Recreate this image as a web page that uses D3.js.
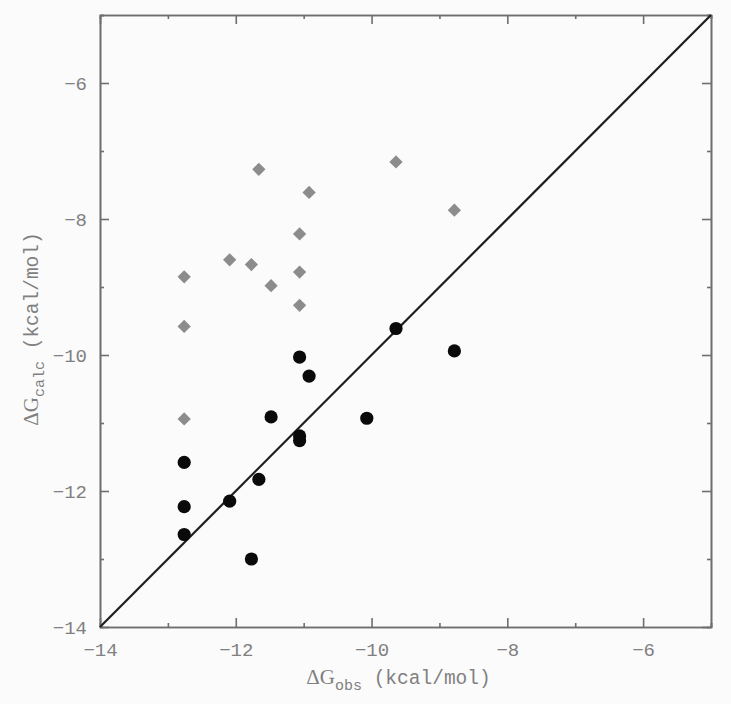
<!DOCTYPE html>
<html>
<head>
<meta charset="utf-8">
<script src="https://cdn.jsdelivr.net/npm/d3@7"></script>
<style>
  body { margin: 0; background: #fbfbfb; }
  .axis path, .axis line { stroke: #6e6e6e; stroke-width: 1.6; }
  .axis text { fill: #808080; font-family: "Liberation Mono", "Courier New", monospace; font-size: 19px; }
</style>
</head>
<body>
<div id="canva"></div>
<script>
// gray diamonds (without correction)
const obsGray  = [-11.66, -9.64, -10.92, -8.78, -11.06, -12.09, -11.77, -11.06, -12.76, -11.48, -11.06, -12.76, -12.76];
const calcGray = [-7.27, -7.16, -7.61, -7.87, -8.22, -8.60, -8.67, -8.78, -8.85, -8.98, -9.27, -9.58, -10.94];

// black circles (with correction)
const obsBlack  = [-9.64, -8.78, -11.06, -10.92, -11.48, -10.07, -11.06, -11.06, -12.76, -11.66, -12.09, -12.76, -12.76, -11.77];
const calcBlack = [-9.61, -9.94, -10.03, -10.31, -10.91, -10.93, -11.19, -11.26, -11.58, -11.83, -12.15, -12.23, -12.64, -13.00];

const majorTicks = [-14, -12, -10, -8, -6];
const minorTicks = [-13, -11, -9, -7, -5];
const domain = [-14, -5];

const width = 731;
const height = 704;
const margin = { top: 15, left: 100, bottom: 77, right: 20 };
const iwidth = width - margin.left - margin.right;
const iheight = height - margin.top - margin.bottom;

const svg = d3.select("#canva").append("svg")
    .attr("width", width)
    .attr("height", height);

const g = svg.append("g").attr("transform", `translate(${margin.left},${margin.top})`);

const x = d3.scaleLinear().domain(domain).range([0, iwidth]);
const y = d3.scaleLinear().domain(domain).range([iheight, 0]);

// minor ticks (all four sides)
const minor = (axis) => axis.tickValues(minorTicks).tickSize(-4).tickFormat("");
g.append("g").attr("class", "axis").attr("transform", `translate(0,${iheight})`).call(minor(d3.axisBottom(x)));
g.append("g").attr("class", "axis").call(minor(d3.axisTop(x)));
g.append("g").attr("class", "axis").call(minor(d3.axisLeft(y)));
g.append("g").attr("class", "axis").attr("transform", `translate(${iwidth},0)`).call(minor(d3.axisRight(y)));

// major ticks
g.append("g").attr("class", "axis").attr("transform", `translate(0,${iheight})`)
    .call(d3.axisBottom(x).tickValues(majorTicks).tickSize(-9).tickSizeOuter(0).tickPadding(16).tickFormat(d3.format("d")));
g.append("g").attr("class", "axis")
    .call(d3.axisLeft(y).tickValues(majorTicks).tickSize(-9).tickSizeOuter(0).tickPadding(13).tickFormat(d3.format("d")));
g.append("g").attr("class", "axis")
    .call(d3.axisTop(x).tickValues(majorTicks).tickSize(-9).tickSizeOuter(0).tickFormat(""));
g.append("g").attr("class", "axis").attr("transform", `translate(${iwidth},0)`)
    .call(d3.axisRight(y).tickValues(majorTicks).tickSize(-9).tickSizeOuter(0).tickFormat(""));

g.selectAll(".axis text").style("font-family", "'Liberation Mono', 'Courier New', monospace");

// y = x line
g.append("line")
    .attr("x1", x(domain[0])).attr("y1", y(domain[0]))
    .attr("x2", x(domain[1])).attr("y2", y(domain[1]))
    .attr("stroke", "#1e1e1e")
    .attr("stroke-width", 2.2);

// gray diamonds
const diamond = d3.symbol().type(d3.symbolSquare).size(88);
g.selectAll(".dia").data(obsGray.map((o, i) => [o, calcGray[i]]))
    .enter().append("path")
    .attr("class", "dia")
    .attr("d", diamond)
    .attr("transform", d => `translate(${x(d[0])},${y(d[1])}) rotate(45)`)
    .style("fill", "#8c8c8c");

// black circles
g.selectAll(".dot").data(obsBlack.map((o, i) => [o, calcBlack[i]]))
    .enter().append("circle")
    .attr("class", "dot")
    .attr("cx", d => x(d[0]))
    .attr("cy", d => y(d[1]))
    .attr("r", 6.6)
    .style("fill", "#0a0a0a");

// axis titles
const xt = svg.append("text")
    .attr("x", margin.left + iwidth / 2 - 7)
    .attr("y", 684)
    .attr("text-anchor", "middle")
    .style("fill", "#808080")
    .style("font-size", "19.5px")
    .style("font-family", "'Liberation Mono', monospace");
xt.append("tspan").text("ΔG").style("font-family", "'Liberation Serif', serif").style("font-size", "21px");
xt.append("tspan").text("obs").attr("dy", 6).style("font-size", "15px");
xt.append("tspan").text(" (kcal/mol)").attr("dy", -6);

const yt = svg.append("text")
    .attr("transform", `translate(38,${margin.top + iheight / 2 + 8}) rotate(-90)`)
    .attr("text-anchor", "middle")
    .style("fill", "#808080")
    .style("font-size", "19.5px")
    .style("font-family", "'Liberation Mono', monospace");
yt.append("tspan").text("ΔG").style("font-family", "'Liberation Serif', serif").style("font-size", "21px");
yt.append("tspan").text("calc").attr("dy", 6).style("font-size", "15px");
yt.append("tspan").text(" (kcal/mol)").attr("dy", -6);
</script>
</body>
</html>
